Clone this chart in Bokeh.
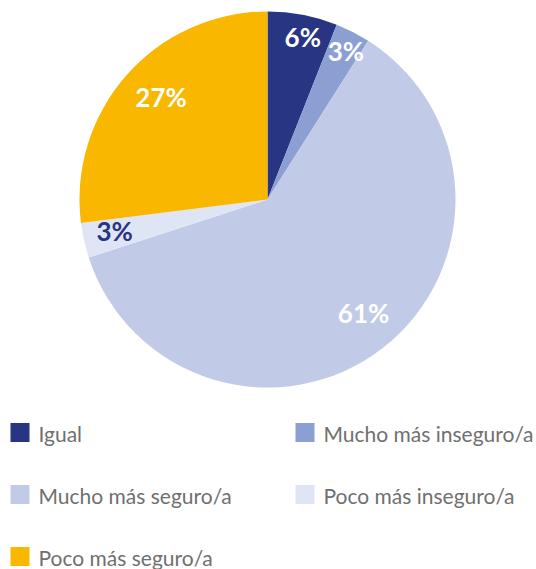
import math
from bokeh.plotting import figure
from bokeh.models import Range1d, ColumnDataSource
from bokeh.core.properties import value
from bokeh.embed import file_html
from bokeh.resources import INLINE

categories = ["Igual", "Mucho más inseguro/a", "Mucho más seguro/a", "Poco más inseguro/a", "Poco más seguro/a"]
values = [6, 3, 61, 3, 27]
colors = ["#283583", "#8b9fd3", "#c1cbe8", "#dfe5f4", "#f9b700"]
label_colors = ["#ffffff", "#ffffff", "#ffffff", "#283583", "#ffffff"]

W, H = 536, 569
p = figure(width=W, height=H, output_backend="svg", toolbar_location=None,
           x_range=Range1d(0, W), y_range=Range1d(0, H), min_border=0)
p.axis.visible = False
p.grid.visible = False
p.outline_line_color = None
p.background_fill_color = "white"

cx, cy, R = 267, H - 199, 188
total = sum(values)
starts, ends, lx, ly, labels = [], [], [], [], []
cum = 0
for v in values:
    a0 = math.pi / 2 - 2 * math.pi * cum / total
    a1 = math.pi / 2 - 2 * math.pi * (cum + v) / total
    starts.append(a0)
    ends.append(a1)
    mid = (a0 + a1) / 2
    rr = R * (0.86 if v < 10 else 0.79)
    lx.append(cx + rr * math.cos(mid))
    ly.append(cy + rr * math.sin(mid))
    labels.append(f"{v}%")
    cum += v

src = ColumnDataSource(dict(start=starts, end=ends, color=colors))
p.wedge(x=cx, y=cy, radius=R, start_angle="start", end_angle="end", direction="clock",
        fill_color="color", line_color=None, source=src)

p.text(x=lx, y=ly, text=labels, text_color=label_colors, text_font=value("Lato"),
       text_font_style="bold", text_font_size="26px", text_align="center", text_baseline="middle",
       x_offset=5, y_offset=-4)

# legend
col_x = [10, 295]
row_y = [H - 432, H - 494, H - 556]
sq_x, sq_y, tx, ty = [], [], [], []
for i, c in enumerate(categories):
    r, k = divmod(i, 2)
    sq_x.append(col_x[k] + 9.5)
    sq_y.append(row_y[r])
    tx.append(col_x[k] + 28)
    ty.append(row_y[r] - 1)
p.rect(x=sq_x, y=sq_y, width=19, height=19, fill_color=colors, line_color=None)
p.text(x=tx, y=ty, text=categories, text_color="#707070", text_font=value("Lato"),
       text_font_size="21px", text_align="left", text_baseline="middle")

open("out.html", "w").write(file_html(p, INLINE))
